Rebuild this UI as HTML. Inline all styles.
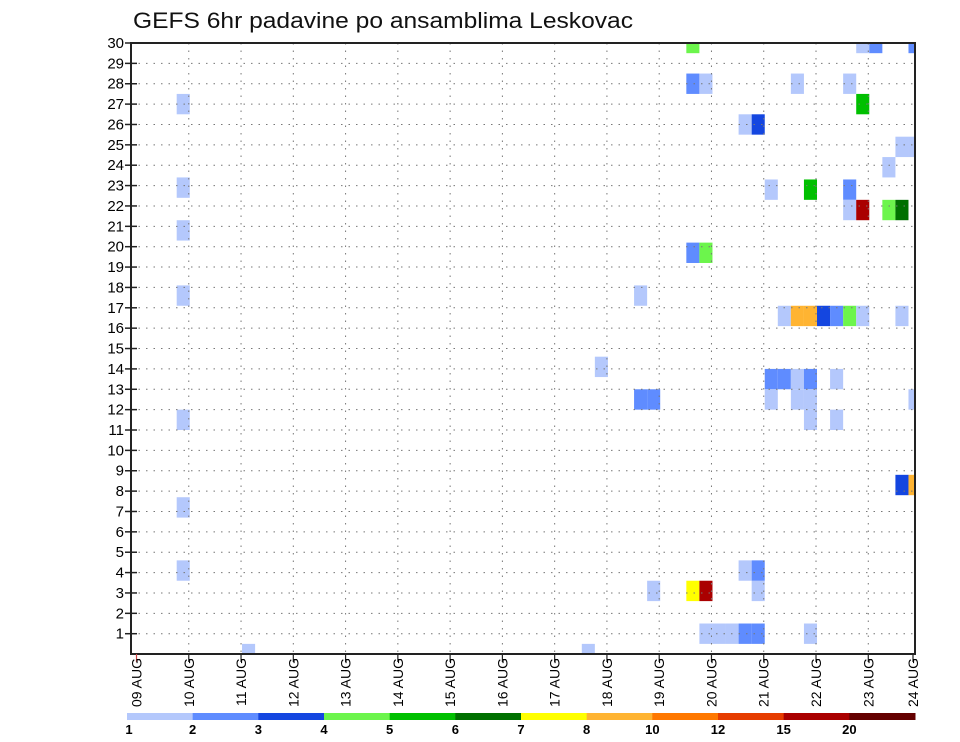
<!DOCTYPE html>
<html><head><meta charset="utf-8"><style>
body{margin:0;background:#fff;}
svg{display:block;font-family:"Liberation Sans",sans-serif;}
</style></head><body>
<svg id="chart" width="960" height="742" viewBox="0 0 960 742" xmlns="http://www.w3.org/2000/svg">
<text x="133" y="28" font-size="22" textLength="500" lengthAdjust="spacingAndGlyphs" fill="#111">GEFS 6hr padavine po ansamblima Leskovac</text>
<g id="cells"></g><g id="grid"></g><g id="axes"></g><g id="cbar"></g>
</svg>
<script>
const dayLabels = ["09 AUG","10 AUG","11 AUG","12 AUG","13 AUG","14 AUG","15 AUG","16 AUG","17 AUG","18 AUG","19 AUG","20 AUG","21 AUG","22 AUG","23 AUG","24 AUG"];
const memberTicks = [1,2,3,4,5,6,7,8,9,10,11,12,13,14,15,16,17,18,19,20,21,22,23,24,25,26,27,28,29,30];
const levelLabels = ["1","2","3","4","5","6","7","8","10","12","15","20"];
const levelColors = ["#b4c8fc","#5f8cff","#1446e0","#6cf54c","#00c000","#007000","#ffff00","#ffb432","#ff7800","#e63c00","#aa0000","#640000"];
// cells: time step (6h index from 09 AUG 00Z), member position, colour class
const cellT = [3,3,3,3,3,3,3,8,35,34,38,38,39,39,
 43,44,45,46,47,51, 42,43,47, 46,47, 58,59,
 49,50,51,52,53,54,55,58, 48,49,50,51,53, 48,50,51,59, 51,53,
 42,55,56,59, 42,43,50,54, 55, 46,47, 58,59, 57,
 48,51,54, 54,55,57,58, 42,43];
const cellM = [27,22.9,20.8,17.6,11.5,7.2,4.1,0,14.1,0,17.6,12.5,12.5,3.1,
 1,1,1,1,1,1, 3.1,3.1,3.1, 4.1,4.1, 8.3,8.3,
 16.6,16.6,16.6,16.6,16.6,16.6,16.6,16.6, 13.5,13.5,13.5,13.5,13.5, 12.5,12.5,12.5,12.5, 11.5,11.5,
 30,30,30,30, 28,28,28,28, 27, 26,26, 24.9,24.9, 23.9,
 22.8,22.8,22.8, 21.8,21.8,21.8,21.8, 19.7,19.7];
const cellC = [0,0,0,0,0,0,0,0,0,0,0,1,1,0,
 0,0,0,1,1,0, 6,10,0, 0,1, 2,7,
 0,7,7,2,1,3,0,0, 1,1,0,1,0, 0,0,0,0, 0,0,
 3,0,1,1, 1,0,0,0, 4, 0,2, 0,0, 0,
 0,4,1, 0,10,3,5, 1,3];

const L=131,R=915,T=43,B=654;
const dayW=52.27, stepW=dayW/4, memH=(633.7-T)/29;
const xDay=d=>136.5+d*dayW;
const xStep=t=>137.5+t*stepW;
const yM=m=>633.7-(m-1)*memH;
const NS="http://www.w3.org/2000/svg";
function mk(tag,attrs,parent){const e=document.createElementNS(NS,tag);for(const k in attrs)e.setAttribute(k,attrs[k]);parent.appendChild(e);return e;}

const defs=mk('defs',{},document.getElementById('chart'));
const cp=mk('clipPath',{id:'pc'},defs);mk('rect',{x:L,y:T,width:R-L,height:B-T},cp);
const cg=document.getElementById('cells');cg.setAttribute('clip-path','url(#pc)');


for(let i=0;i<cellT.length;i++){
  const r=mk('rect',{x:xStep(cellT[i]),y:yM(cellM[i])-memH/2,width:stepW,height:memH,fill:levelColors[cellC[i]]},cg);
  
  
}
const gg=document.getElementById('grid');
for(const m of memberTicks){
  const y=yM(m);
  const l=mk('line',{x1:L,x2:R,y1:y,y2:y,stroke:'#777','stroke-width':1,'stroke-dasharray':'1.5,6'},gg);
  
  
}
for(let d=1;d<dayLabels.length-1;d++){
  const x=xDay(d);
  const l=mk('line',{x1:x,x2:x,y1:T,y2:B,stroke:'#777','stroke-width':1,'stroke-dasharray':'1.5,6'},gg);
  
  
}
const ag=document.getElementById('axes');
const fr=mk('rect',{x:L,y:T,width:R-L,height:B-T,fill:'none',stroke:'#222','stroke-width':2},ag);


for(const m of memberTicks){
  const y=yM(m);
  mk('line',{x1:L-6,x2:L+6,y1:y,y2:y,stroke:'#222','stroke-width':1.5},ag);
  const t=mk('text',{x:L-7,y:y+5,'font-size':15,'text-anchor':'end',fill:'#000'},ag);
  t.textContent=m;
  
  
}
for(let d=0;d<dayLabels.length;d++){
  let x=Math.min(xDay(d),R-2);
  mk('line',{x1:x,x2:x,y1:B,y2:B+8,stroke:d==0?'#c44':'#222','stroke-width':1.2},ag);
  const t=mk('text',{x:0,y:0,'font-size':14,'text-anchor':'end',fill:'#000',transform:`translate(${x+5},${B+4}) rotate(-90)`},ag);
  t.textContent=dayLabels[d];
  
  
}
const cb=document.getElementById('cbar');


const cbL=127,cbW=(915-127)/levelColors.length;
for(let i=0;i<levelColors.length;i++){
  const r=mk('rect',{x:cbL+i*cbW,y:713,width:cbW+0.5,height:7,fill:levelColors[i]},cb);
  
  
  const t=mk('text',{x:cbL+i*cbW+(i==0?2:0),y:734,'font-size':13,'font-weight':'bold','text-anchor':'middle',fill:'#000'},cb);
  t.textContent=levelLabels[i];
  
  
}
</script>
</body></html>
